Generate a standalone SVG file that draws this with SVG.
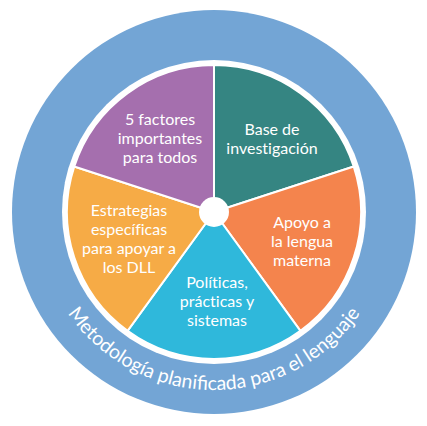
<svg xmlns="http://www.w3.org/2000/svg" width="427" height="426" viewBox="0 0 427 426">
<style>
.seg{stroke:#fff;stroke-width:2;stroke-linejoin:round}
.lbl{font-family:Lato,"Open Sans","Liberation Sans",sans-serif;font-size:16px;fill:#fff;text-anchor:middle;font-variant-ligatures:none}
.ring{font-family:Lato,"Open Sans","Liberation Sans",sans-serif;font-size:19.5px;fill:#fff}
</style>
<defs>
<path id="arc" d="M 46.73 272.88 A 178 178 0 0 0 381.27 272.88"/>
</defs>
<rect width="427" height="426" fill="#fff"/>
<g id="ring">
<circle cx="214" cy="212" r="202" fill="#73a5d5"/>
<circle cx="214" cy="212" r="152" fill="#fff"/>
<text class="ring"><textPath href="#arc" startOffset="50%" text-anchor="middle">Metodología planificada para el lenguaje</textPath></text>
</g>
<g id="base">
<path class="seg" fill="#358582" d="M214 212 L214 65 A147 147 0 0 1 353.8 166.57 Z"/>
<text class="lbl"><tspan x="272" y="135">Base de</tspan><tspan x="272" y="154">investigación</tspan></text>
</g>
<g id="apoyo">
<path class="seg" fill="#f4844d" d="M214 212 L353.8 166.57 A147 147 0 0 1 300.41 330.93 Z"/>
<text class="lbl"><tspan x="302" y="228">Apoyo a</tspan><tspan x="302" y="247">la lengua</tspan><tspan x="302" y="266">materna</tspan></text>
</g>
<g id="politicas">
<path class="seg" fill="#2fb8db" d="M214 212 L300.41 330.93 A147 147 0 0 1 127.59 330.93 Z"/>
<text class="lbl"><tspan x="217" y="288">Políticas,</tspan><tspan x="217" y="307">prácticas y</tspan><tspan x="217" y="326">sistemas</tspan></text>
</g>
<g id="estrategias">
<path class="seg" fill="#f6ab46" d="M214 212 L127.59 330.93 A147 147 0 0 1 74.2 166.57 Z"/>
<text class="lbl"><tspan x="129" y="216">Estrategias</tspan><tspan x="129" y="235">específicas</tspan><tspan x="129" y="254">para apoyar a</tspan><tspan x="129" y="273">los DLL</tspan></text>
</g>
<g id="factores">
<path class="seg" fill="#a56fae" d="M214 212 L74.2 166.57 A147 147 0 0 1 214 65 Z"/>
<text class="lbl"><tspan x="160" y="125">5 factores</tspan><tspan x="160" y="144">importantes</tspan><tspan x="160" y="163">para todos</tspan></text>
</g>
<g id="center">
<circle cx="214" cy="212" r="15" fill="#fff"/>
</g>
</svg>
